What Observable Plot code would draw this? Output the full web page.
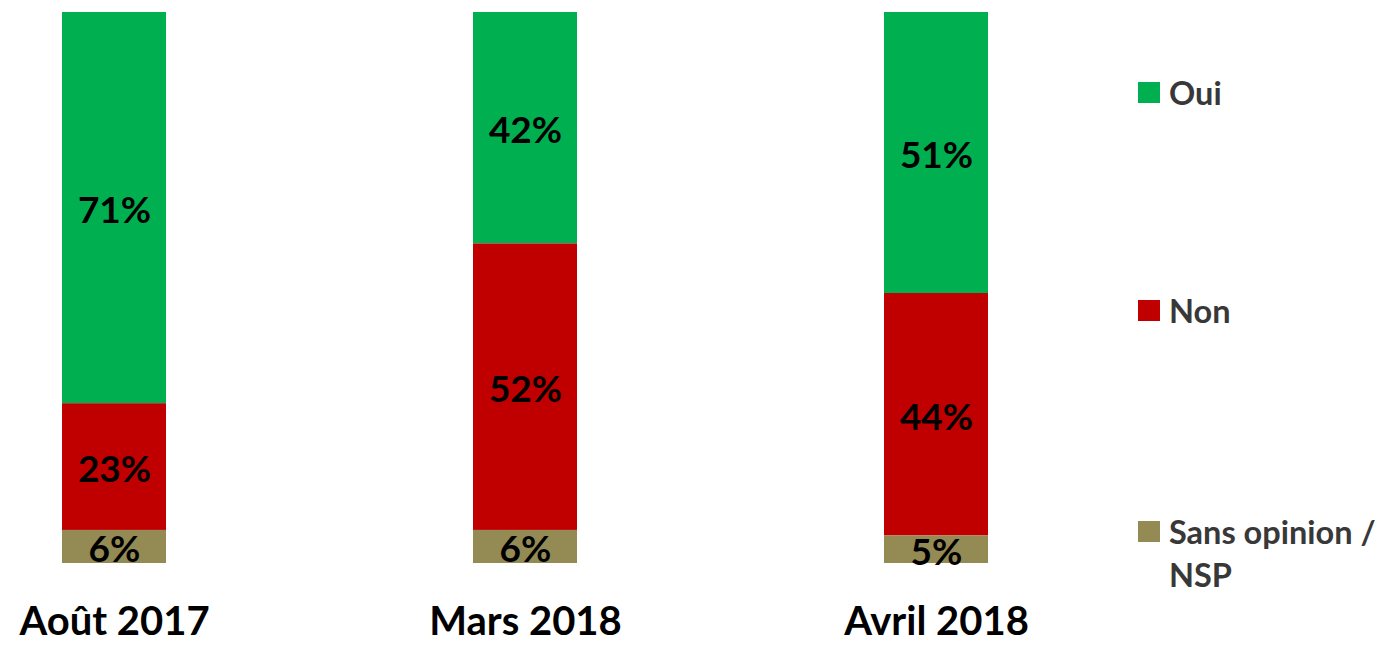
<!DOCTYPE html>
<html>
<head>
<meta charset="utf-8">
<script src="https://cdn.jsdelivr.net/npm/d3@7"></script>
<script src="https://cdn.jsdelivr.net/npm/@observablehq/plot@0.6"></script>
<style>
  html, body { margin: 0; padding: 0; background: #fff; }
  #wrap { position: relative; width: 1383px; height: 645px; font-family: Lato, "Open Sans", sans-serif; }
  #legend { position: absolute; left: 1138px; top: 0; }
  .item { position: absolute; left: 0; display: flex; align-items: flex-start; white-space: nowrap; }
  .sw { width: 22px; height: 21px; flex: none; }
  .lab { margin-left: 9px; font-size: 32.5px; font-weight: 700; color: #383838; line-height: 43px; margin-top: -11px; }
</style>
</head>
<body>
<div id="wrap"></div>
<script>
const periods = ["Août 2017", "Mars 2018", "Avril 2018"];
const seriesNames = ["Oui", "Non", "Sans opinion / NSP"];
const ouiValues = [71, 42, 51];
const nonValues = [23, 52, 44];
const nspValues = [6, 6, 5];
const seriesColors = ["#00B050", "#C00000", "#948A54"];
const legendTops = [82, 300, 521];

const valuesBySeries = [ouiValues, nonValues, nspValues];
const rows = [];
seriesNames.forEach((s, si) => {
  periods.forEach((p, pi) => rows.push({period: p, series: s, value: valuesBySeries[si][pi]}));
});
const stackOrder = ["Sans opinion / NSP", "Non", "Oui"];

const chart = Plot.plot({
  width: 1383,
  height: 645,
  marginTop: 12,
  marginBottom: 82,
  marginLeft: 0,
  marginRight: 0,
  style: {fontFamily: "Lato, 'Open Sans', sans-serif", background: "#fff", overflow: "visible"},
  x: {domain: periods, range: [62, 988], padding: 0.747, paddingOuter: 0, align: 0.5, label: null},
  y: {domain: [0, 100], axis: null},
  color: {domain: seriesNames, range: seriesColors},
  marks: [
    Plot.barY(rows, Plot.stackY({x: "period", y: "value", z: "series", fill: "series", order: stackOrder})),
    Plot.text(rows, Plot.stackY({x: "period", y: "value", z: "series", order: stackOrder,
      text: d => d.value + "%", fill: "#000", fontSize: 37, fontWeight: "bold", dy: 3})),
    Plot.axisX({tickSize: 0, tickPadding: 43, fontSize: 40, fontWeight: "bold", fill: "#000", label: null})
  ]
});
const wrap = document.getElementById("wrap");
wrap.appendChild(chart);

const legend = document.createElement("div");
legend.id = "legend";
seriesNames.forEach((s, i) => {
  const item = document.createElement("div");
  item.className = "item";
  item.style.top = legendTops[i] + "px";
  const sw = document.createElement("div");
  sw.className = "sw";
  sw.style.background = seriesColors[i];
  const lab = document.createElement("div");
  lab.className = "lab";
  if (s === "Sans opinion / NSP") {
    lab.innerHTML = "Sans opinion /<br>NSP";
  } else {
    lab.textContent = s;
  }
  item.appendChild(sw);
  item.appendChild(lab);
  legend.appendChild(item);
});
wrap.appendChild(legend);
</script>
</body>
</html>
